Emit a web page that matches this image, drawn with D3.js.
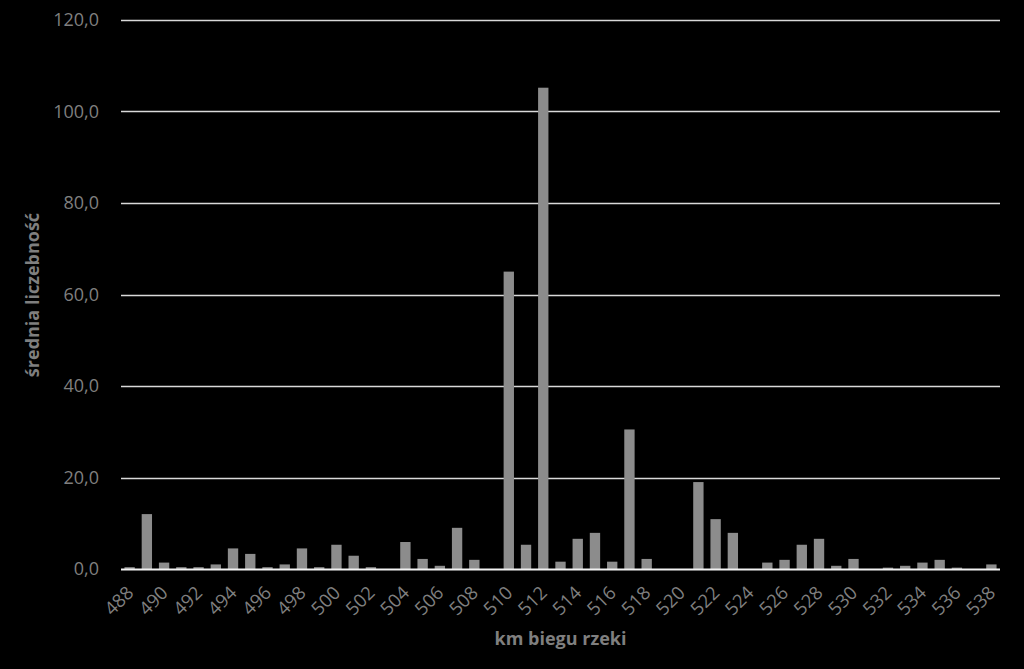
<!DOCTYPE html>
<html lang="pl">
<head>
    <meta charset="UTF-8">
    <title>Średnia liczebność</title>
    <script src="https://d3js.org/d3.v7.min.js"></script>
    <style>
        body {
            margin: 0;
            background: #000;
            font-family: "Open Sans", Arial, sans-serif;
        }
        svg {
            display: block;
        }
    </style>
</head>
<body>
    <div id="container"></div>

    <script>
        // km of the river (x categories)
        const kms = d3.range(488, 539).map(String);

        // mean abundance per km
        const values = [
            0.4, 12.0, 1.4, 0.4, 0.4, 1.0, 4.5, 3.3, 0.4, 1.0,
            4.5, 0.4, 5.3, 2.9, 0.4, 0.0, 5.9, 2.2, 0.7, 9.0,
            2.0, 0.0, 65.0, 5.3, 105.2, 1.6, 6.6, 7.9, 1.6, 30.5,
            2.2, 0.0, 0.0, 19.0, 10.9, 7.9, 0.0, 1.4, 2.0, 5.3,
            6.6, 0.7, 2.2, 0.0, 0.3, 0.7, 1.4, 2.0, 0.3, 0.0,
            1.0
        ];

        const yTicks = [0, 20, 40, 60, 80, 100, 120];

        const data = kms.map((k, i) => ({ km: k, val: values[i] }));

        const width = 1024, height = 669;
        const margin = { left: 121, right: 24, top: 20, bottom: 100 };

        const svg = d3.select('#container').append('svg')
            .attr('width', width)
            .attr('height', height);

        svg.append('rect')
            .attr('width', width)
            .attr('height', height)
            .attr('fill', '#000');

        const x = d3.scaleBand()
            .domain(kms)
            .range([margin.left, width - margin.right])
            .paddingInner(0.4)
            .paddingOuter(0.2);

        const y = d3.scaleLinear()
            .domain([0, 120])
            .range([height - margin.bottom, margin.top]);

        // gridlines
        svg.append('g')
            .selectAll('line')
            .data(yTicks.filter(t => t > 0))
            .enter()
            .append('line')
            .attr('x1', margin.left)
            .attr('x2', width - margin.right)
            .attr('y1', d => Math.round(y(d)) + 0.5)
            .attr('y2', d => Math.round(y(d)) + 0.5)
            .attr('stroke', '#d9d9d9')
            .attr('stroke-width', 1.3);

        // bars
        svg.append('g')
            .selectAll('rect')
            .data(data)
            .enter()
            .append('rect')
            .attr('x', d => x(d.km))
            .attr('y', d => y(d.val))
            .attr('width', x.bandwidth())
            .attr('height', d => y(0) - y(d.val))
            .attr('fill', '#8c8c8c');

        // baseline
        svg.append('line')
            .attr('x1', margin.left)
            .attr('x2', width - margin.right)
            .attr('y1', y(0) + 0.5)
            .attr('y2', y(0) + 0.5)
            .attr('stroke', '#f2f2f2')
            .attr('stroke-width', 2);

        // y axis labels
        const fmt = d => d3.format('.1f')(d).replace('.', ',');
        svg.append('g')
            .selectAll('text')
            .data(yTicks)
            .enter()
            .append('text')
            .attr('x', 99)
            .attr('y', d => y(d))
            .attr('dy', '0.36em')
            .attr('text-anchor', 'end')
            .attr('fill', '#7f7f7f')
            .attr('font-size', 18)
            .text(fmt);

        // x axis labels, every second km, rotated
        svg.append('g')
            .selectAll('text')
            .data(kms.filter((k, i) => i % 2 === 0))
            .enter()
            .append('text')
            .attr('text-anchor', 'end')
            .attr('transform', d => {
                const cx = x(d) + x.bandwidth() / 2;
                return 'translate(' + (cx + 5) + ',' + 594 + ') rotate(-45)';
            })
            .attr('fill', '#7f7f7f')
            .attr('font-size', 18.5)
            .text(d => d);

        // axis titles
        svg.append('text')
            .attr('x', (margin.left + width - margin.right) / 2)
            .attr('y', 645)
            .attr('text-anchor', 'middle')
            .attr('fill', '#7f7f7f')
            .attr('font-size', 18)
            .attr('font-weight', 'bold')
            .text('km biegu rzeki');

        svg.append('text')
            .attr('transform', 'translate(39,295) rotate(-90)')
            .attr('text-anchor', 'middle')
            .attr('fill', '#7f7f7f')
            .attr('font-size', 18)
            .attr('font-weight', 'bold')
            .text('średnia liczebność');
    </script>
</body>
</html>
